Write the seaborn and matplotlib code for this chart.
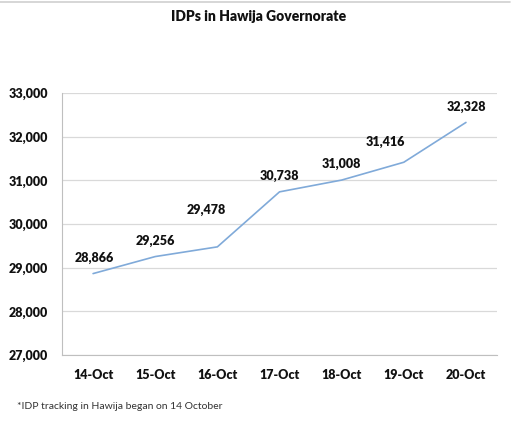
import matplotlib
matplotlib.use("Agg")
import matplotlib.pyplot as plt
import seaborn as sns
import pandas as pd
import numpy as np
from matplotlib.lines import Line2D
from matplotlib.ticker import FuncFormatter, FixedLocator

# data
dates = ["14-Oct", "15-Oct", "16-Oct", "17-Oct", "18-Oct", "19-Oct", "20-Oct"]
idps = [28866, 29256, 29478, 30738, 31008, 31416, 32328]
yticks = [27000, 28000, 29000, 30000, 31000, 32000, 33000]

# label nudges in points (dx, dy)
nudges = [(1, 7), (0, 7), (-8, 22), (0, 7), (0, 7), (-13, 10), (0, 7)]

frame = pd.DataFrame({"date": dates, "idps": idps})
frame["pos"] = np.arange(len(dates))

sns.set_style("white")
plt.rcParams["font.family"] = ["Lato", "DejaVu Sans"]

fig = plt.figure(figsize=(5.18, 4.33), dpi=100)
ax = fig.add_axes([0.1197, 0.180, 0.8398, 0.605])

sns.lineplot(data=frame, x="pos", y="idps", ax=ax, color="#80aad9", linewidth=1.2)

ax.set_xlim(-0.5, len(dates) - 0.5)
ax.set_ylim(yticks[0], yticks[-1])
ax.set_yticks(yticks)
ax.yaxis.set_major_formatter(FuncFormatter(lambda v, p: f"{int(v):,}"))
ax.set_xticks(frame["pos"])
ax.set_xticklabels(dates)
ax.xaxis.set_minor_locator(FixedLocator(np.arange(-0.5, len(dates), 1)))
ax.tick_params(axis="x", which="major", length=0, pad=10)
ax.tick_params(axis="x", which="minor", length=4, color="#bfbfbf", width=0.8)
ax.tick_params(axis="y", length=4, color="#bfbfbf", width=0.8, pad=6)
for lab in ax.get_xticklabels() + ax.get_yticklabels():
    lab.set_fontweight("heavy")
    lab.set_fontsize(9)
    lab.set_color("#111111")

ax.grid(axis="y", color="#d9d9d9", linewidth=0.9)
ax.set_axisbelow(True)
sns.despine(ax=ax, top=True, right=True)
ax.spines["left"].set_color("#bfbfbf")
ax.spines["bottom"].set_color("#bfbfbf")
ax.set_xlabel("")
ax.set_ylabel("")

for (x, y), (dx, dy) in zip(zip(frame["pos"], frame["idps"]), nudges):
    ax.annotate(f"{y:,}", (x, y), xytext=(dx, dy), textcoords="offset points",
                ha="center", va="bottom", fontsize=9, fontweight="heavy", color="#111111")

fig.text(0.5, 0.962, "IDPs in Hawija Governorate", ha="center", va="center",
         fontsize=10, fontweight="heavy", color="#111111")
fig.text(0.033, 0.062, "*IDP tracking in Hawija began on 14 October", ha="left", va="center",
         fontsize=7.5, color="#333333")
fig.add_artist(Line2D([0, 0.985], [0.995, 0.995], color="#d0d0d0", linewidth=1.2,
                      transform=fig.transFigure))

fig.savefig("out.png", dpi=100)
